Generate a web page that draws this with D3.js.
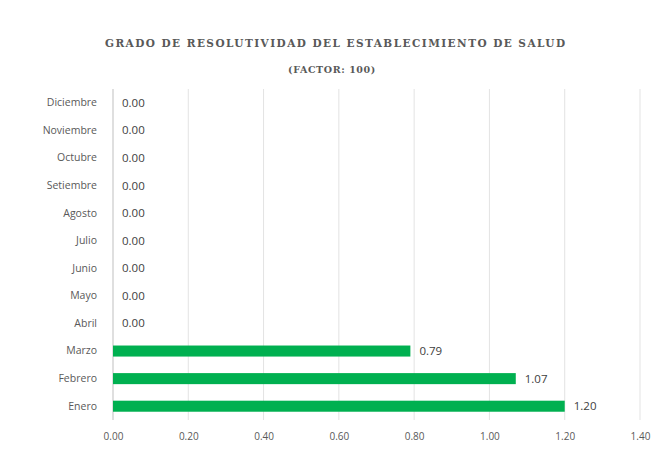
<html>
<head>
<script src="https://cdnjs.cloudflare.com/ajax/libs/d3/7.8.5/d3.min.js"></script>
</head>
<body style="margin: 0; background: #fff;">
<script>
// meses de abajo hacia arriba como en el gráfico
var months = ["Enero", "Febrero", "Marzo", "Abril", "Mayo", "Junio", "Julio", "Agosto", "Setiembre", "Octubre", "Noviembre", "Diciembre"];
var values = [1.20, 1.07, 0.79, 0, 0, 0, 0, 0, 0, 0, 0, 0];
var ticks = [0, 0.2, 0.4, 0.6, 0.8, 1.0, 1.2, 1.4];
var title = "GRADO DE RESOLUTIVIDAD DEL ESTABLECIMIENTO DE SALUD";
var subtitle = "(FACTOR: 100)";

var width = 653, height = 454;
var margin = {top: 89, right: 13, bottom: 34, left: 113};

var svg = d3.select("body").append("svg")
    .attr("width", width)
    .attr("height", height)
    .style("font-family", "Open Sans, sans-serif");

var x = d3.scaleLinear().domain([0, 1.4]).range([margin.left, width - margin.right]);
var y = d3.scaleBand().domain(months.slice().reverse())
    .range([margin.top, height - margin.bottom])
    .paddingInner(0.6).paddingOuter(0.3);

svg.append("text")
    .attr("x", 335).attr("y", 47)
    .attr("text-anchor", "middle")
    .attr("font-family", "'DejaVu Serif', 'Liberation Serif', serif")
    .attr("font-weight", "bold")
    .attr("font-size", 10.5)
    .attr("textLength", 460)
    .attr("lengthAdjust", "spacing")
    .attr("fill", "#595959")
    .text(title);

svg.append("text")
    .attr("x", 332).attr("y", 73)
    .attr("text-anchor", "middle")
    .attr("font-family", "'DejaVu Serif', 'Liberation Serif', serif")
    .attr("font-weight", "bold")
    .attr("font-size", 9.5)
    .attr("letter-spacing", 0.6)
    .attr("fill", "#595959")
    .text(subtitle);

// grid
svg.append("g")
  .selectAll("line")
  .data(ticks.slice(1))
  .join("line")
    .attr("x1", d => x(d)).attr("x2", d => x(d))
    .attr("y1", margin.top).attr("y2", height - margin.bottom)
    .attr("stroke", "#e3e3e3").attr("stroke-width", 1);

// axis
var xAxis = d3.axisBottom(x).tickValues(ticks).tickFormat(d3.format(".2f")).tickSize(0).tickPadding(13);
var gx = svg.append("g")
    .attr("transform", `translate(0,${height - margin.bottom})`)
    .call(xAxis);
gx.select(".domain").remove();
gx.selectAll("text").attr("fill", "#595959").attr("font-size", 10).attr("font-family", "Open Sans, sans-serif");

svg.append("line")
    .attr("x1", x(0)).attr("x2", x(0))
    .attr("y1", margin.top).attr("y2", height - margin.bottom)
    .attr("stroke", "#bfbfbf");

var yAxis = d3.axisLeft(y).tickSize(0).tickPadding(16);
var gy = svg.append("g")
    .attr("transform", `translate(${margin.left},0)`)
    .call(yAxis);
gy.select(".domain").remove();
gy.selectAll("text").attr("fill", "#595959").attr("font-size", 10.5).attr("font-family", "Open Sans, sans-serif");

var data = months.map((m, i) => ({month: m, value: values[i]}));

svg.append("g")
  .selectAll("rect")
  .data(data)
  .join("rect")
    .attr("x", x(0))
    .attr("y", d => y(d.month))
    .attr("width", d => x(d.value) - x(0))
    .attr("height", y.bandwidth())
    .attr("fill", "#00b050");

svg.append("g")
  .selectAll("text")
  .data(data)
  .join("text")
    .attr("x", d => x(d.value) + 9)
    .attr("y", d => y(d.month) + y.bandwidth() / 2)
    .attr("dy", "0.35em")
    .attr("font-size", 11.5)
    .attr("fill", "#404040")
    .text(d => d3.format(".2f")(d.value));
</script>
</body>
</html>
